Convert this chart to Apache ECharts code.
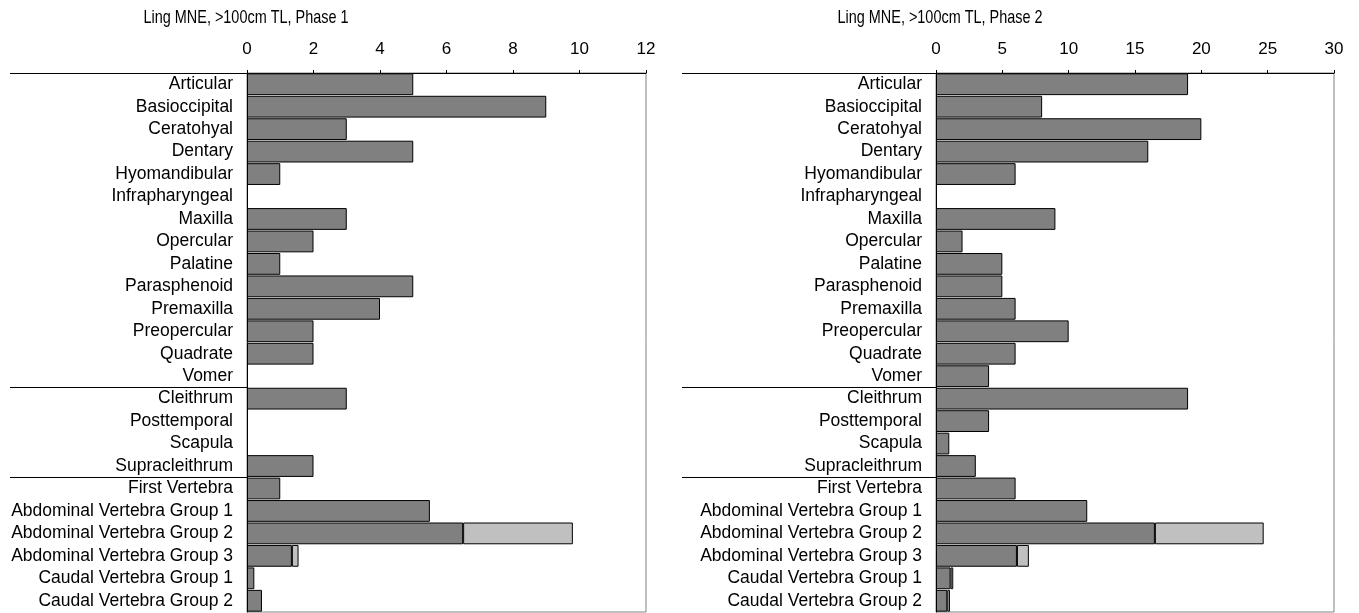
<!DOCTYPE html>
<html>
<head>
<meta charset="utf-8">
<script src="https://cdn.jsdelivr.net/npm/echarts@6/dist/echarts.min.js"></script>
<style>
html,body{margin:0;padding:0;background:#fff;}
#c{width:1359px;height:613px;}
</style>
</head>
<body>
<div id="c"></div>
<script>
const categories = [
  'Articular','Basioccipital','Ceratohyal','Dentary','Hyomandibular','Infrapharyngeal',
  'Maxilla','Opercular','Palatine','Parasphenoid','Premaxilla','Preopercular','Quadrate','Vomer',
  'Cleithrum','Posttemporal','Scapula','Supracleithrum',
  'First Vertebra','Abdominal Vertebra Group 1','Abdominal Vertebra Group 2',
  'Abdominal Vertebra Group 3','Caudal Vertebra Group 1','Caudal Vertebra Group 2'
];
const phase1Main  = [5,9,3,5,1,0,3,2,1,5,4,2,2,0,3,0,0,2,1,5.5,6.5,1.35,0.22,0.45];
const phase1Extra = [0,0,0,0,0,0,0,0,0,0,0,0,0,0,0,0,0,0,0,0,3.3,0.2,0,0];
const phase2Main  = [19,8,20,16,6,0,9,2,5,5,6,10,6,4,19,4,1,3,6,11.4,16.5,6.1,1.1,0.85];
const phase2Extra = [0,0,0,0,0,0,0,0,0,0,0,0,0,0,0,0,0,0,0,0,8.2,0.9,0.2,0.2];
const titles = ['Ling MNE, >100cm TL, Phase 1','Ling MNE, >100cm TL, Phase 2'];
const xMax = [12, 30];
const xInterval = [2, 5];
const groupStarts = ['Articular','Cleithrum','First Vertebra'];

const FONT = '"Liberation Sans", Arial, sans-serif';
const toData = arr => arr.map(v => v === 0 ? '-' : v);

const chart = echarts.init(document.getElementById('c'), null, {renderer:'canvas'});

const grids = [
  {left:247, top:73, width:399, height:539},
  {left:936, top:73, width:398, height:539}
];
const labelLeft = [10, 682];
const titleCenter = [246, 940];

function xAxisOf(i){
  return {
    type:'value', gridIndex:i, position:'top', min:0, max:xMax[i], interval:xInterval[i],
    axisLine:{show:true, lineStyle:{color:'#000', width:1}},
    axisTick:{show:true, inside:false, length:3, lineStyle:{color:'#000'}},
    axisLabel:{color:'#000', fontFamily:FONT, fontSize:17, margin:15},
    splitLine:{show:false}
  };
}
function yAxisOf(i){
  return {
    type:'category', gridIndex:i, data:categories, inverse:true,
    axisLine:{show:true, lineStyle:{color:'#000', width:1}},
    axisTick:{show:false},
    axisLabel:{color:'#000', fontFamily:FONT, fontSize:17.5, margin:14, interval:0},
    splitLine:{show:false}
  };
}
const mains = [phase1Main, phase2Main];
const extras = [phase1Extra, phase2Extra];
const series = [];
for (let i=0;i<2;i++){
  series.push({
    type:'bar', xAxisIndex:i, yAxisIndex:i, stack:'s'+i, data:toData(mains[i]),
    barCategoryGap:'3%',
    itemStyle:{color:'#808080', borderColor:'#000', borderWidth:1},
    silent:true
  });
  series.push({
    type:'bar', xAxisIndex:i, yAxisIndex:i, stack:'s'+i, data:toData(extras[i]),
    barCategoryGap:'3%',
    itemStyle:{color:'#c0c0c0', borderColor:'#000', borderWidth:1},
    silent:true
  });
}

chart.setOption({
  animation:false,
  backgroundColor:'#fff',
  grid: grids.map(g => Object.assign({show:true, borderColor:'#808080', borderWidth:1, backgroundColor:'transparent'}, g)),
  xAxis:[xAxisOf(0), xAxisOf(1)],
  yAxis:[yAxisOf(0), yAxisOf(1)],
  series: series
});

// titles (condensed, as in the original) and group separator lines
const elements = [];
for (let i=0;i<2;i++){
  elements.push({
    type:'text', silent:true, x:titleCenter[i], y:18, scaleX:0.78, scaleY:1,
    style:{text:titles[i], fill:'#000', font:'18.5px ' + FONT, textAlign:'center', textVerticalAlign:'middle'}
  });
  const c0 = chart.convertToPixel({yAxisIndex:i}, categories[0]);
  const c1 = chart.convertToPixel({yAxisIndex:i}, categories[1]);
  const band = c1 - c0;
  const xRight = chart.convertToPixel({xAxisIndex:i}, 0);
  groupStarts.forEach(name => {
    const y = Math.round(chart.convertToPixel({yAxisIndex:i}, name) - band/2) + 0.5;
    elements.push({
      type:'line', silent:true,
      shape:{x1:labelLeft[i], y1:y, x2:xRight, y2:y},
      style:{stroke:'#000', lineWidth:1}
    });
  });
}
chart.setOption({graphic:{elements:elements}});
</script>
</body>
</html>
